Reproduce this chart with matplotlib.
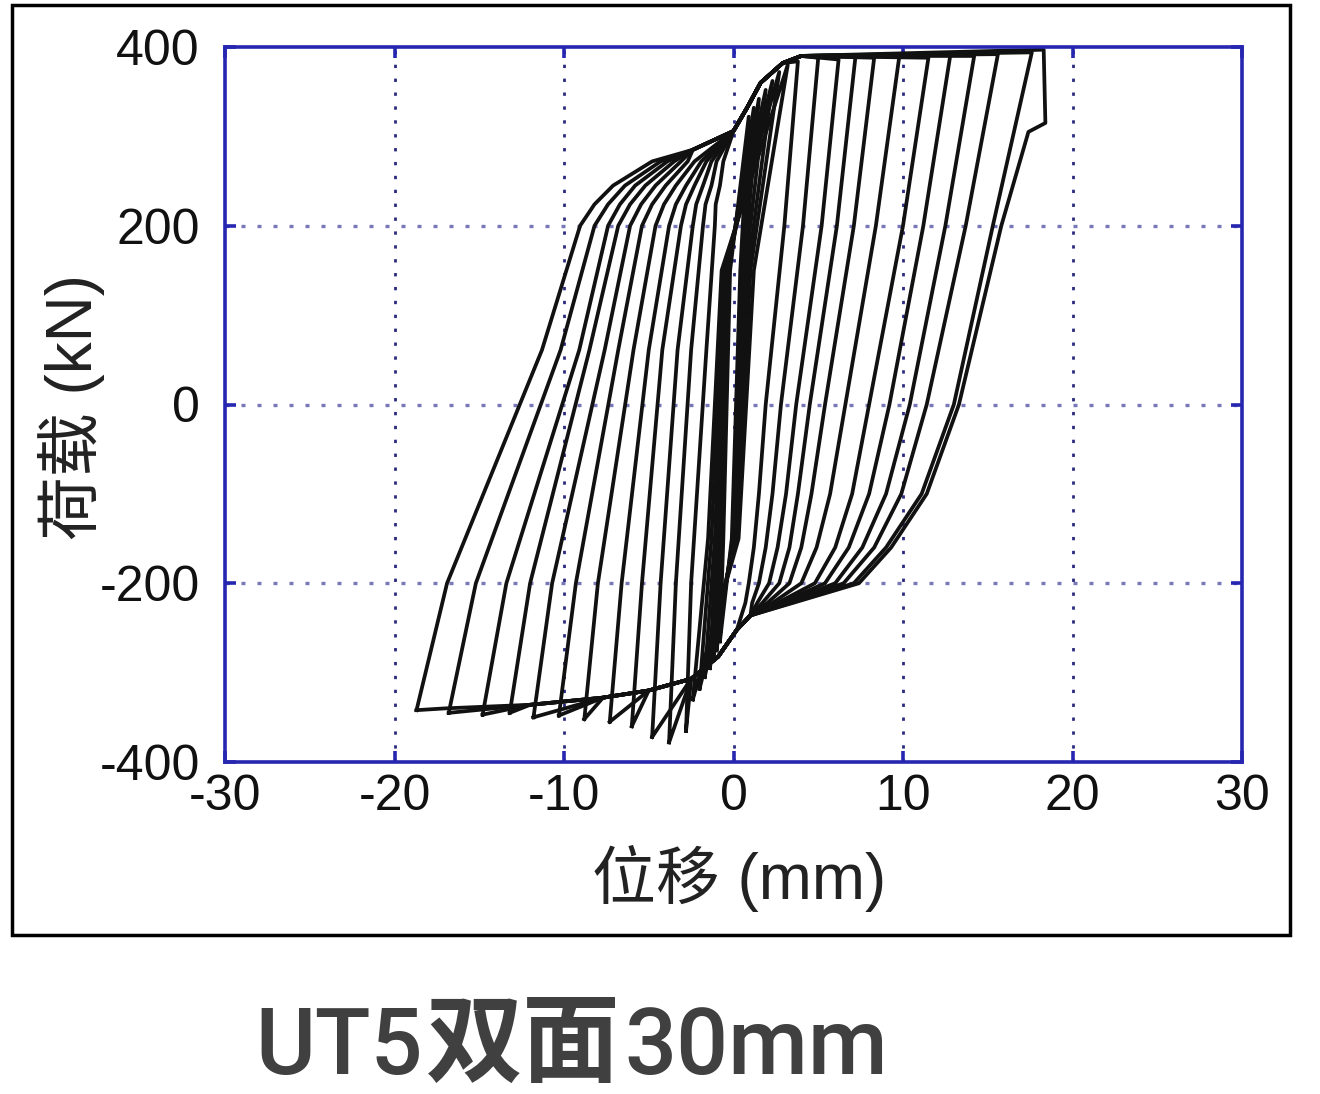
import matplotlib.pyplot as plt
from matplotlib.patches import Rectangle

plt.rcParams['font.family'] = ['Liberation Sans', 'Noto Sans CJK SC']
plt.rcParams['axes.unicode_minus'] = False

# peak points of the main cycles (mm, kN)
pos_peak_x = [18.3, 17.6, 15.6, 14.2, 12.8, 11.5, 9.8, 8.3, 7.2, 6.2, 5.0, 3.8]
pos_peak_y = [397, 394, 392, 390, 392, 388, 392, 388, 390, 386, 388, 384]
neg_peak_x = [-18.7, -16.8, -14.8, -13.2, -11.8, -10.3, -8.8, -7.3, -6.0, -4.8, -3.8, -2.8]
neg_peak_y = [-342, -345, -347, -345, -350, -348, -352, -355, -360, -372, -378, -365]

# reloading branch: displacement where each cycle crosses these loads
reload_levels = [-200, 61, 200, 224, 245, 272]
reload_m200 = [-16.9, -15.2, -13.4, -12.0, -10.7, -9.3, -8.0, -6.6, -5.4, -4.3, -3.4, -2.5]
reload_61 = [-11.3, -10.2, -9.1, -8.5, -7.6, -6.8, -5.9, -5.0, -4.2, -3.3, -2.5, -1.6]
reload_200 = [-9.05, -8.2, -7.4, -6.8, -6.1, -5.4, -4.6, -3.8, -3.1, -2.4, -1.8, -1.1]
reload_224 = [-8.2, -7.4, -6.7, -6.1, -5.45, -4.8, -4.1, -3.4, -2.8, -2.2, -1.65, -1.05]
reload_245 = [-7.1, -6.4, -5.8, -5.2, -4.6, -4.0, -3.4, -2.8, -2.3, -1.8, -1.3, -0.8]
reload_272 = [-4.8, -4.3, -3.9, -3.5, -3.1, -2.7, -2.3, -1.9, -1.6, -1.3, -1.0, -0.6]
upper_tail_x = [-2.4, 0.0, 0.8, 1.6, 2.9, 4.0]
upper_tail_y = [285, 306, 332, 360, 382, 390]

# unloading branch
unload_levels = [200, 0, -100, -160, -200, -222]
unload_200 = [15.8, 15.3, 13.7, 12.5, 11.2, 10.0, 8.4, 7.1, 6.1, 5.2, 4.1, 3.0]
unload_0 = [13.3, 13.0, 11.4, 10.4, 9.2, 8.0, 6.6, 5.4, 4.5, 3.7, 2.8, 1.9]
unload_m100 = [11.4, 11.1, 9.9, 9.0, 8.0, 7.0, 5.7, 4.6, 3.8, 3.1, 2.3, 1.5]
unload_m160 = [9.3, 9.0, 8.3, 7.6, 6.8, 6.0, 4.9, 4.0, 3.3, 2.6, 1.9, 1.2]
unload_m200 = [7.4, 7.1, 6.5, 6.0, 5.4, 4.8, 4.0, 3.3, 2.7, 2.1, 1.5, 0.9]
unload_m222 = [3.5, 3.4, 3.2, 3.0, 2.8, 2.6, 2.3, 2.0, 1.7, 1.4, 1.1, 0.7]
lower_tail_x = [1.0, 0.2, -0.9, -2.5, -5.0, -7.7, -12.0, -17.0]
lower_tail_y = [-236, -252, -282, -307, -320, -328, -336, -340]

# load drop at the last positive peak
drop_x = [18.4, 17.4]
drop_y = [315, 305]

# small cycles in the centre band
small_neg_x = [-2.4, -2.0, -1.7, -1.4, -1.2, -1.0, -0.8]
small_neg_y = [-330, -318, -305, -295, -285, -275, -265]
small_pos_x = [3.2, 2.7, 2.3, 1.9, 1.5, 1.2, 0.9]
small_pos_y = [380, 372, 362, 352, 342, 332, 322]
small_rel_m150 = [-1.5, -1.3, -1.1, -1.0, -0.85, -0.7, -0.6]
small_rel_150 = [-0.7, -0.6, -0.5, -0.4, -0.35, -0.3, -0.2]
small_unl_150 = [1.2, 1.0, 0.85, 0.7, 0.6, 0.5, 0.4]
small_unl_m150 = [0.3, 0.2, 0.1, 0.05, 0.0, -0.05, -0.1]

fig = plt.figure(figsize=(13.2, 10.94), dpi=100)
fig.patches.append(Rectangle((12 / 1320, 1 - 935 / 1094), 1278 / 1320, 930 / 1094,
                             transform=fig.transFigure, fill=False, lw=2.5, ec='black'))
ax = fig.add_axes([225 / 1320, 1 - 762 / 1094, 1017 / 1320, 715 / 1094])

line_kw = dict(color='#111111', lw=2.7, solid_joinstyle='round')
for i in range(len(pos_peak_x)):
    xs = [neg_peak_x[i]]
    ys = [neg_peak_y[i]]
    cols = [reload_m200, reload_61, reload_200, reload_224, reload_245, reload_272]
    for lev, col in zip(reload_levels, cols):
        xs.append(col[i])
        ys.append(lev)
    for x, y in zip(upper_tail_x, upper_tail_y):
        if xs[-1] < x < pos_peak_x[i]:
            xs.append(x)
            ys.append(y)
    xs.append(pos_peak_x[i])
    ys.append(pos_peak_y[i])
    if i == 0:
        xs += drop_x
        ys += drop_y
    cols = [unload_200, unload_0, unload_m100, unload_m160, unload_m200, unload_m222]
    for lev, col in zip(unload_levels, cols):
        xs.append(col[i])
        ys.append(lev)
    for x, y in zip(lower_tail_x, lower_tail_y):
        if neg_peak_x[i] < x < xs[-1]:
            xs.append(x)
            ys.append(y)
    xs.append(neg_peak_x[i])
    ys.append(neg_peak_y[i])
    ax.plot(xs, ys, **line_kw)

for i in range(len(small_pos_x)):
    xs = [small_neg_x[i], small_rel_m150[i], small_rel_150[i], small_pos_x[i],
          small_unl_150[i], small_unl_m150[i], small_neg_x[i]]
    ys = [small_neg_y[i], -150, 150, small_pos_y[i], 150, -150, small_neg_y[i]]
    ax.plot(xs, ys, **line_kw)

ax.set_xlim(-30, 30)
ax.set_ylim(-400, 400)
ax.set_xticks([-30, -20, -10, 0, 10, 20, 30])
ax.set_yticks([-400, -200, 0, 200, 400])
ax.set_xticklabels(['-30', '-20', '-10', '0', '10', '20', '30'])
ax.set_yticklabels(['-400', '-200', '0', '200', '400'])

for y in [-200, 0, 200]:
    ax.axhline(y, color='#7878b8', lw=2.4, ls=(0, (1.2, 3.6)), zorder=0)
for x in [-20, -10, 0, 10, 20]:
    ax.axvline(x, color='#2a2a80', lw=2.0, ls=(0, (1.2, 3.8)), zorder=0)

for s in ax.spines.values():
    s.set_color('#2626b0')
    s.set_linewidth(2.6)
ax.tick_params(direction='in', length=8, width=2.6, color='#2626b0',
               top=True, right=True, labelsize=36, labelcolor='#111111')
ax.tick_params(axis='y', pad=18)
ax.tick_params(axis='x', pad=9)

ax.set_xlabel('位移 (mm)', fontsize=46, color='#222222')
ax.set_ylabel('荷载 (kN)', fontsize=46, color='#222222')
ax.xaxis.set_label_coords(0.506, -0.116)
ax.yaxis.set_label_coords(-0.118, 0.497)

cap_y = 1 - 1074 / 1094
fig.text(255 / 1320, cap_y, 'UT5', fontsize=66, weight='medium', color='#404040',
         family='Roboto', va='baseline')
fig.text(426 / 1320, cap_y, '双面', fontsize=70, weight='bold', color='#404040',
         family='Noto Sans CJK SC', va='baseline')
fig.text(624 / 1320, cap_y, '30mm', fontsize=66, weight='medium', color='#404040',
         family='Roboto', va='baseline')

fig.savefig('out.png', dpi=100, facecolor='white')
